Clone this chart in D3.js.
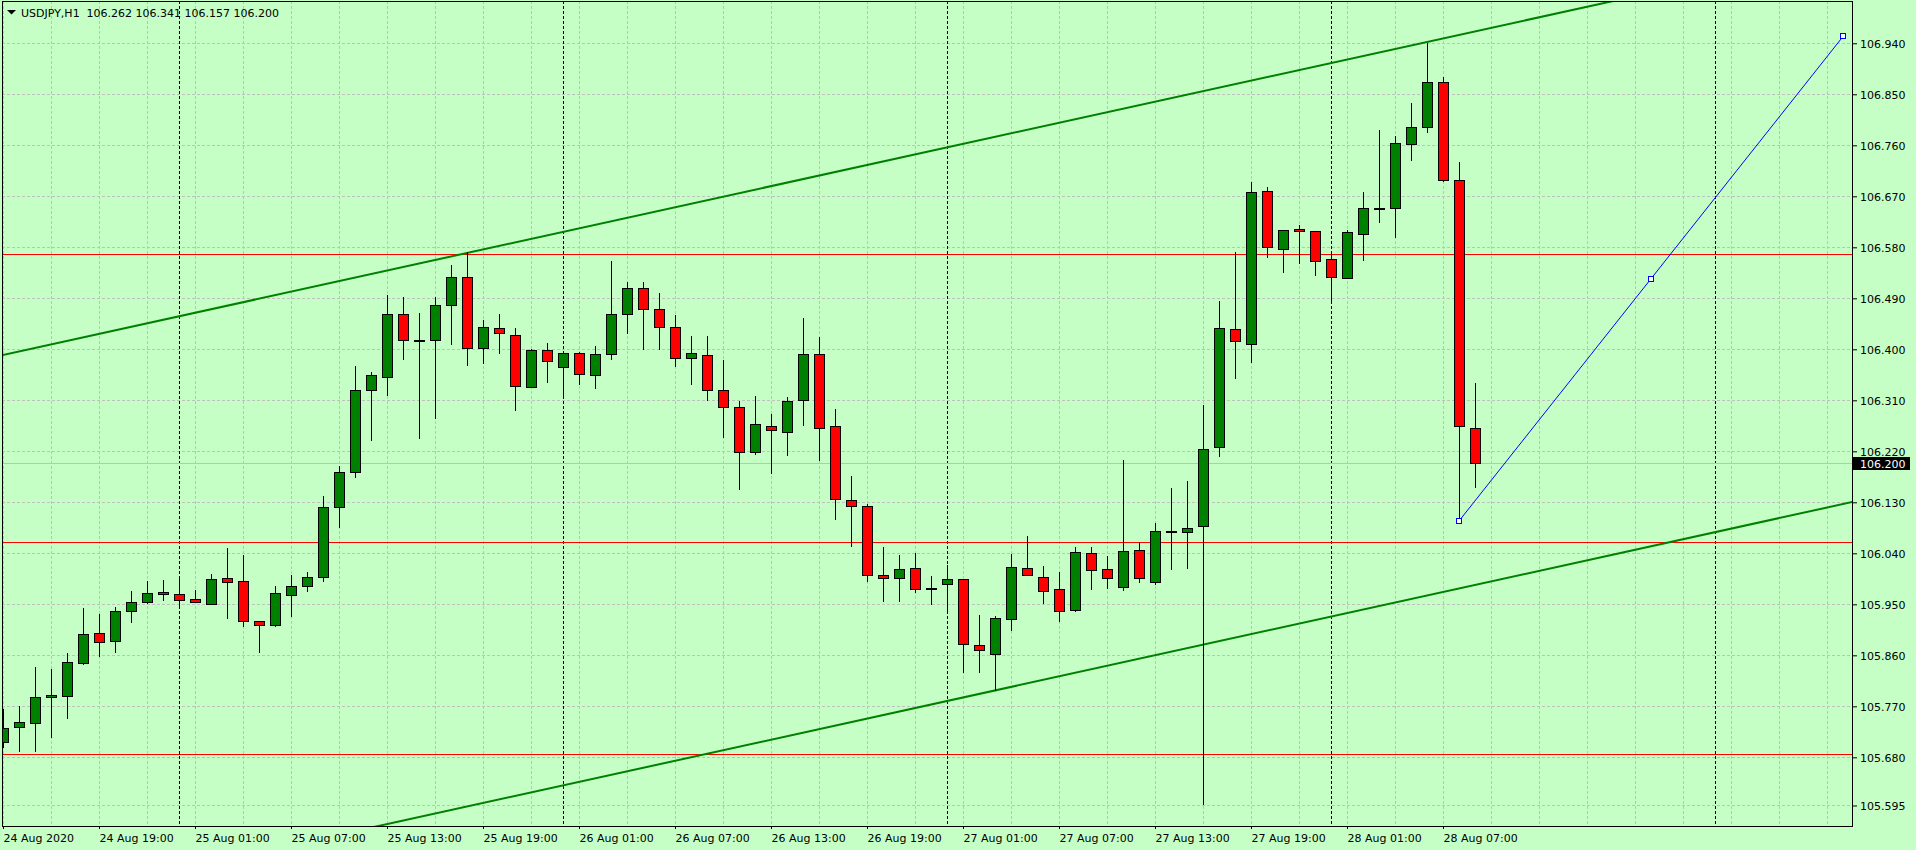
<!DOCTYPE html>
<html lang="en">
<head>
<meta charset="utf-8">
<title>USDJPY,H1</title>
<script src="https://cdn.jsdelivr.net/npm/d3@7"></script>
<style>
    body { margin: 0; background: #c6ffc6; overflow: hidden; }
    svg { display: block; font-family: "DejaVu Sans", sans-serif; font-size: 11px; }
</style>
</head>
<body>
<script type="text/javascript">
    // USDJPY H1, one bar per hour, first bar 24 Aug 2020 13:00
    var opens = [105.707, 105.733, 105.740, 105.786, 105.789, 105.846, 105.899, 105.885, 105.938, 105.954,
        105.971, 105.968, 105.959, 105.951, 105.996, 105.991, 105.920, 105.913, 105.966, 105.982,
        105.998, 106.121, 106.183, 106.329, 106.352, 106.462, 106.416, 106.416, 106.479, 106.527,
        106.402, 106.437, 106.425, 106.333, 106.398, 106.368, 106.393, 106.354, 106.391, 106.462,
        106.508, 106.472, 106.439, 106.384, 106.390, 106.328, 106.299, 106.219, 106.264, 106.254,
        106.310, 106.391, 106.264, 106.134, 106.124, 106.001, 105.996, 106.014, 105.978, 105.985,
        105.994, 105.878, 105.862, 105.924, 106.014, 105.998, 105.977, 105.940, 106.040, 106.012,
        105.981, 106.045, 105.990, 106.080, 106.077, 106.088, 106.227, 106.435, 106.409, 106.679,
        106.577, 106.612, 106.608, 106.559, 106.525, 106.603, 106.649, 106.649, 106.762, 106.792,
        106.871, 106.698, 106.262];
    var highs = [105.765, 105.770, 105.839, 105.836, 105.864, 105.944, 105.933, 105.945, 105.974, 105.991,
        105.993, 105.996, 105.975, 106.004, 106.049, 106.037, 105.920, 105.982, 106.002, 106.007,
        106.142, 106.194, 106.371, 106.360, 106.496, 106.492, 106.464, 106.492, 106.549, 106.571,
        106.451, 106.462, 106.437, 106.400, 106.411, 106.393, 106.395, 106.405, 106.556, 106.519,
        106.519, 106.499, 106.461, 106.424, 106.424, 106.381, 106.309, 106.318, 106.286, 106.315,
        106.456, 106.422, 106.294, 106.176, 106.127, 106.051, 106.037, 106.041, 106.000, 106.019,
        105.994, 105.931, 105.929, 106.038, 106.070, 106.017, 106.007, 106.051, 106.051, 106.035,
        106.205, 106.060, 106.093, 106.155, 106.168, 106.302, 106.485, 106.571, 106.695, 106.686,
        106.610, 106.619, 106.608, 106.569, 106.610, 106.677, 106.787, 106.776, 106.834, 106.940,
        106.880, 106.730, 106.341];
    var lows = [105.698, 105.692, 105.692, 105.716, 105.749, 105.845, 105.859, 105.865, 105.919, 105.953,
        105.958, 105.948, 105.954, 105.950, 105.926, 105.911, 105.866, 105.911, 105.930, 105.973,
        105.992, 106.087, 106.175, 106.240, 106.320, 106.383, 106.244, 106.278, 106.410, 106.373,
        106.375, 106.394, 106.293, 106.333, 106.343, 106.320, 106.339, 106.332, 106.383, 106.428,
        106.401, 106.401, 106.371, 106.338, 106.311, 106.246, 106.154, 106.216, 106.182, 106.214,
        106.267, 106.204, 106.101, 106.053, 105.992, 105.956, 105.956, 105.971, 105.951, 105.939,
        105.831, 105.831, 105.798, 105.905, 106.001, 105.953, 105.921, 105.938, 105.977, 105.979,
        105.975, 105.989, 105.986, 106.012, 106.014, 105.598, 106.212, 106.350, 106.378, 106.563,
        106.537, 106.552, 106.532, 106.487, 106.525, 106.558, 106.625, 106.599, 106.734, 106.784,
        106.697, 106.097, 106.157];
    var closes = [105.731, 105.742, 105.786, 105.790, 105.848, 105.897, 105.883, 105.938, 105.954, 105.970,
        105.968, 105.957, 105.954, 105.994, 105.989, 105.920, 105.913, 105.970, 105.982, 105.998,
        106.121, 106.183, 106.328, 106.354, 106.462, 106.416, 106.416, 106.479, 106.527, 106.402,
        106.439, 106.428, 106.335, 106.398, 106.379, 106.393, 106.356, 106.391, 106.462, 106.508,
        106.472, 106.439, 106.384, 106.393, 106.328, 106.299, 106.218, 106.268, 106.257, 106.308,
        106.391, 106.262, 106.135, 106.124, 106.001, 105.996, 106.012, 105.977, 105.978, 105.994,
        105.880, 105.869, 105.925, 106.015, 106.001, 105.973, 105.938, 106.042, 106.010, 105.997,
        106.044, 105.997, 106.079, 106.080, 106.084, 106.224, 106.437, 106.414, 106.677, 106.580,
        106.610, 106.608, 106.555, 106.527, 106.607, 106.649, 106.649, 106.764, 106.792, 106.871,
        106.698, 106.264, 106.200];

    // time axis: one label every 6 bars
    var timeLabels = ["24 Aug 2020", "24 Aug 19:00", "25 Aug 01:00", "25 Aug 07:00", "25 Aug 13:00",
        "25 Aug 19:00", "26 Aug 01:00", "26 Aug 07:00", "26 Aug 13:00", "26 Aug 19:00",
        "27 Aug 01:00", "27 Aug 07:00", "27 Aug 13:00", "27 Aug 19:00", "28 Aug 01:00", "28 Aug 07:00"];
    var timeLabelBars = [0, 6, 12, 18, 24, 30, 36, 42, 48, 54, 60, 66, 72, 78, 84, 90];
    var daySeparators = [11, 35, 59, 83, 107];
    var priceTicks = [106.940, 106.850, 106.760, 106.670, 106.580, 106.490, 106.400, 106.310,
        106.220, 106.130, 106.040, 105.950, 105.860, 105.770, 105.680, 105.595];

    // objects on the chart
    var redLevels = [106.569, 106.0595, 105.686];
    var bidPrice = 106.200;
    var upperChannel = [[29, 106.570], [89, 106.9424]];
    var lowerChannel = [[62, 105.798], [122, 106.1704]];
    var blueLine = [[91, 106.097], [115, 106.952]];
    var chartTitle = "USDJPY,H1  106.262 106.341 106.157 106.200";

    var W = 1916, H = 850;
    var pLeft = 2, pTop = 1, pRight = 1852, pBottom = 826;
    var bull = "#008000", bear = "#ff0000", gridColor = "#c0c0c0";

    var x = d3.scaleLinear().domain([0, 115]).range([3, 1843]);
    var y = d3.scaleLinear().domain([105.5588, 107.0164]).range([pBottom, 0]);
    var px = function(i) { return Math.round(x(i)) + 0.5; };
    var py = function(p) { return Math.round(y(p)) + 0.5; };

    var svg = d3.select("body").append("svg")
        .attr("width", W)
        .attr("height", H);

    svg.append("clipPath").attr("id", "plot")
        .append("rect")
        .attr("x", pLeft + 1).attr("y", pTop + 1)
        .attr("width", pRight - pLeft - 1).attr("height", pBottom - pTop - 1);

    var plot = svg.append("g").attr("clip-path", "url(#plot)");

    //grid
    plot.selectAll(".hgrid").data(priceTicks).enter().append("line")
        .attr("x1", pLeft).attr("x2", pRight)
        .attr("y1", function(d) { return py(d); })
        .attr("y2", function(d) { return py(d); })
        .attr("stroke", gridColor).attr("stroke-dasharray", "3,2");
    plot.selectAll(".vgrid").data(d3.range(0, 115, 3)).enter().append("line")
        .attr("x1", function(d) { return px(d); })
        .attr("x2", function(d) { return px(d); })
        .attr("y1", pTop).attr("y2", pBottom)
        .attr("stroke", gridColor).attr("stroke-dasharray", "3,2");
    plot.selectAll(".dsep").data(daySeparators).enter().append("line")
        .attr("x1", function(d) { return px(d); })
        .attr("x2", function(d) { return px(d); })
        .attr("y1", pTop).attr("y2", pBottom)
        .attr("stroke", "#000").attr("stroke-dasharray", "3,2");

    //horizontal levels
    plot.append("line")
        .attr("x1", pLeft).attr("x2", pRight)
        .attr("y1", py(bidPrice)).attr("y2", py(bidPrice))
        .attr("stroke", gridColor);
    plot.selectAll(".level").data(redLevels).enter().append("line")
        .attr("x1", pLeft).attr("x2", pRight)
        .attr("y1", function(d) { return py(d); })
        .attr("y2", function(d) { return py(d); })
        .attr("stroke", "#ff0000");

    //channel lines, extended over the whole plot
    function extend(a) {
        var slope = (a[1][1] - a[0][1]) / (a[1][0] - a[0][0]);
        return [[-5, a[0][1] + slope * (-5 - a[0][0])], [130, a[0][1] + slope * (130 - a[0][0])]];
    }
    [upperChannel, lowerChannel].forEach(function(c) {
        var e = extend(c);
        plot.append("line")
            .attr("x1", x(e[0][0])).attr("y1", y(e[0][1]))
            .attr("x2", x(e[1][0])).attr("y2", y(e[1][1]))
            .attr("stroke", bull).attr("stroke-width", 2);
    });

    //candles
    var idx = d3.range(opens.length);
    plot.selectAll(".wick").data(idx).enter().append("line")
        .attr("x1", function(i) { return px(i); })
        .attr("x2", function(i) { return px(i); })
        .attr("y1", function(i) { return Math.round(y(highs[i])); })
        .attr("y2", function(i) { return Math.round(y(lows[i])) + 1; })
        .attr("stroke", "#000");
    plot.selectAll(".body").data(idx).enter().append("rect")
        .attr("x", function(i) { return px(i) - 5; })
        .attr("y", function(i) { return Math.round(y(Math.max(opens[i], closes[i]))) + 0.5; })
        .attr("width", 10)
        .attr("height", function(i) {
            var h = Math.round(y(Math.min(opens[i], closes[i]))) - Math.round(y(Math.max(opens[i], closes[i])));
            return Math.max(h, 1);
        })
        .attr("fill", function(i) {
            if (closes[i] == opens[i]) return "#000";
            return closes[i] > opens[i] ? bull : bear;
        })
        .attr("stroke", "#000");

    //blue trend line with its three handles
    var bx = blueLine.map(function(d) { return x(d[0]); });
    var by = blueLine.map(function(d) { return y(d[1]); });
    plot.append("line")
        .attr("x1", bx[0]).attr("y1", by[0])
        .attr("x2", bx[1]).attr("y2", by[1])
        .attr("stroke", "#0000ff");
    var handles = [[bx[0], by[0]], [(bx[0] + bx[1]) / 2, (by[0] + by[1]) / 2], [bx[1], by[1]]];
    plot.selectAll(".handle").data(handles).enter().append("rect")
        .attr("x", function(d) { return Math.round(d[0]) - 2.5; })
        .attr("y", function(d) { return Math.round(d[1]) - 2.5; })
        .attr("width", 5).attr("height", 5)
        .attr("fill", "#fff").attr("stroke", "#0000ff");

    //frame
    svg.append("rect")
        .attr("x", pLeft + 0.5).attr("y", pTop + 0.5)
        .attr("width", pRight - pLeft).attr("height", pBottom - pTop)
        .attr("fill", "none").attr("stroke", "#000");

    //price axis
    var yAxis = d3.axisRight(y)
        .tickValues(priceTicks)
        .tickFormat(d3.format(".3f"))
        .tickSize(5)
        .tickPadding(3);
    var ga = svg.append("g")
        .attr("transform", "translate(" + pRight + ",0)")
        .call(yAxis);
    ga.select(".domain").remove();
    ga.selectAll("text").attr("dy", "0.4em").attr("fill", "#000")
        .style("font-family", "DejaVu Sans").style("font-size", "11px");

    //bid label
    svg.append("rect")
        .attr("x", pRight + 1).attr("y", py(bidPrice) - 6.5)
        .attr("width", 57).attr("height", 13)
        .attr("fill", "#000");
    svg.append("text")
        .attr("x", pRight + 8).attr("y", py(bidPrice) + 4)
        .attr("fill", "#fff")
        .text(d3.format(".3f")(bidPrice));

    //time axis
    var xAxis = d3.axisBottom(x)
        .tickValues(timeLabelBars)
        .tickFormat(function(d, i) { return timeLabels[i]; })
        .tickSize(3)
        .tickPadding(5);
    var gx = svg.append("g")
        .attr("transform", "translate(0," + pBottom + ")")
        .call(xAxis);
    gx.select(".domain").remove();
    gx.selectAll("text").attr("text-anchor", "start").attr("x", 0).attr("fill", "#000")
        .style("font-family", "DejaVu Sans").style("font-size", "11px");

    //title
    svg.append("path")
        .attr("d", "M7,10 L16,10 L11.5,14.5 Z")
        .attr("fill", "#000");
    svg.append("text")
        .attr("x", 21).attr("y", 17)
        .attr("fill", "#000")
        .style("white-space", "pre")
        .text(chartTitle);
</script>
</body>
</html>
